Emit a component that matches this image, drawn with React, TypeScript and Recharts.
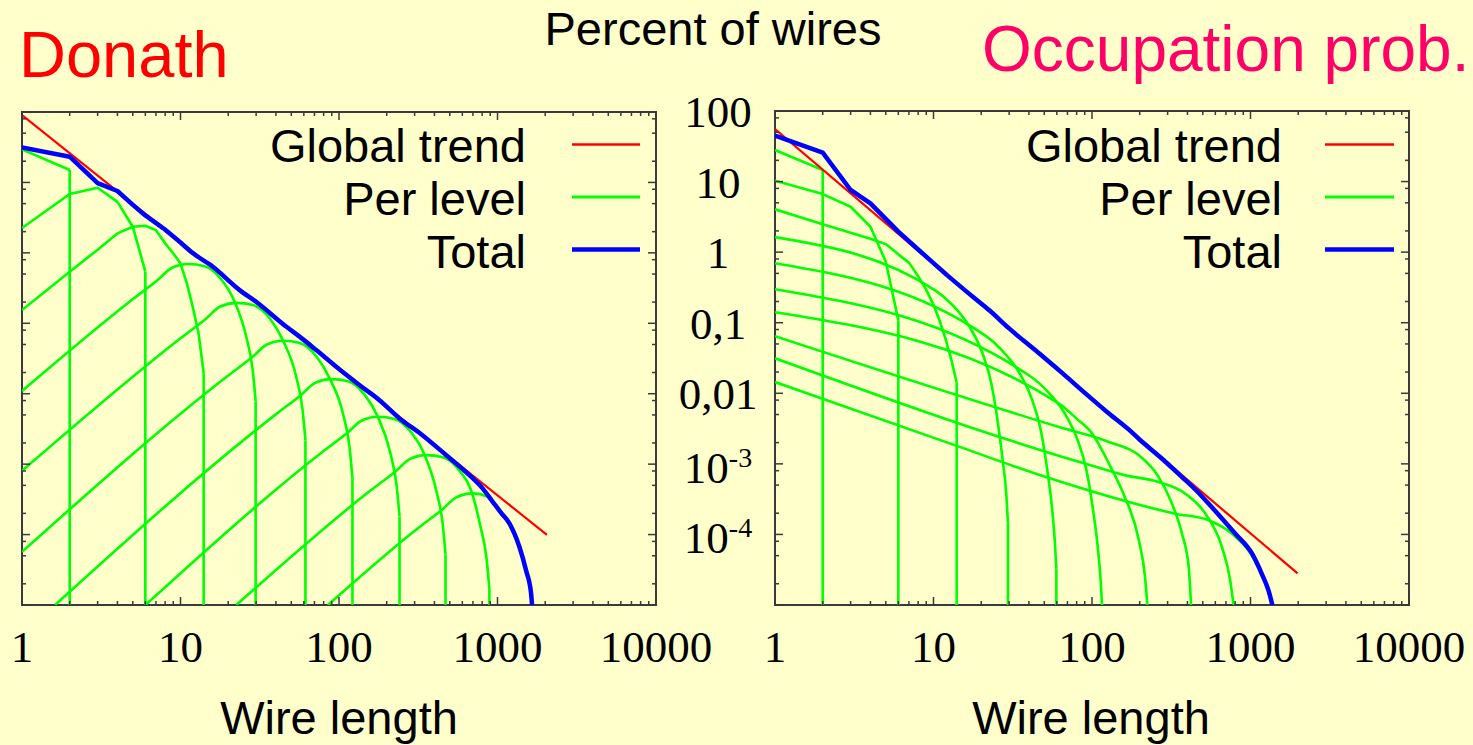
import React from 'react';
import { LineChart, Line, XAxis, YAxis, ReferenceArea } from 'recharts';

type Pt = [number, number];

// ---------- axis ticks ----------
const xTickValues = [1, 2, 3, 4, 5, 6, 7, 8, 9, 10, 20, 30, 40, 50, 60, 70, 80, 90, 100, 200, 300, 400, 500, 600, 700, 800, 900, 1000, 2000, 3000, 4000, 5000, 6000, 7000, 8000, 9000, 10000];
const xLabelValues = [1, 10, 100, 1000, 10000];
const xLabelText = ['1', '10', '100', '1000', '10000'];
const yTickValues = [0.00001, 0.00002, 0.00005, 0.00008, 0.0001, 0.0002, 0.0005, 0.0008, 0.001, 0.002, 0.005, 0.008, 0.01, 0.02, 0.05, 0.08, 0.1, 0.2, 0.5, 0.8, 1, 2, 5, 8, 10, 20, 50, 80, 100];
const yLabelValues = [100, 10, 1, 0.1, 0.01, 0.001, 0.0001];
const yLabelMain = ['100', '10', '1', '0,1', '0,01', '10', '10'];
const yLabelSup = ['', '', '', '', '', '-3', '-4'];

const legendLabels = ['Global trend', 'Per level', 'Total'];

// ---------- Donath (left) ----------
const donathTrend: Pt[] = [[1, 90.6], [2050, 9.9e-5]];
const donathTotal: Pt[] = [[1, 31.5], [2, 23.2], [3, 9.8], [4, 7.55], [5, 4.8], [6, 3.4], [7.8, 2.23], [10, 1.4], [12, 0.984], [16, 0.635], [23.6, 0.296], [30, 0.202], [46.6, 0.0891], [56.4, 0.0646], [71.8, 0.0417], [100, 0.0224], [135, 0.0132], [180, 0.0081], [241, 0.00446], [330, 0.00266], [475, 0.00134], [665, 6.98e-4], [800, 4.6e-4], [933, 2.92e-4], [1060, 2.0e-4], [1189, 1.44e-4], [1374, 6.7e-5], [1514, 3.1e-5], [1629, 1.46e-5], [1652, 1e-5], [1652, 1e-9]];
const donathL1: Pt[] = [[1, 29.5], [2, 15], [2, 1e-9]];
const donathL2: Pt[] = [[1, 2.25], [2, 6.84], [3, 8.4], [4, 5.3], [5, 2.35], [6, 0.54], [6, 1e-9]];
const donathL3: Pt[] = [[1, 0.154], [2, 0.54], [3, 1.11], [4, 1.89], [5, 2.35], [6, 2.43], [7, 2.1], [8, 1.37], [9, 0.98], [10, 0.71], [11, 0.36], [12, 0.164], [13, 0.072], [14, 0.0195], [14, 1e-9]];
const donathL4: Pt[] = [[1, 0.0109], [4.99, 0.219], [7.24, 0.418], [8.79, 0.61], [11.2, 0.693], [14.2, 0.647], [18.1, 0.418], [21.9, 0.205], [26.1, 0.0618], [28.6, 0.0209], [29.8, 0.00778], [29.8, 1e-9]];
const donathL5: Pt[] = [[1, 8.04e-4], [10.05, 0.0618], [14.6, 0.118], [17.7, 0.172], [22.5, 0.195], [28.6, 0.182], [36.5, 0.118], [44.2, 0.0577], [53.7, 0.0174], [58.9, 0.0059], [61.4, 0.00219], [61.4, 1e-9]];
const donathL6: Pt[] = [[1, 5.68e-5], [19.8, 0.0178], [28.8, 0.034], [34.9, 0.0495], [44.4, 0.0564], [56.5, 0.0526], [71.9, 0.034], [87.1, 0.01663], [106.4, 0.00502], [116.7, 0.0017], [121.6, 6.3e-4], [121.6, 1e-9]];
const donathL7: Pt[] = [[1.615, 1e-5], [39.9, 0.00509], [57.9, 0.0097], [70.3, 0.01416], [89.3, 0.0161], [113.8, 0.01503], [144.9, 0.0097], [175.4, 0.00475], [210.9, 0.001436], [231.2, 4.86e-4], [241, 1.81e-4], [241, 1e-9]];
const donathL8: Pt[] = [[6.01, 1e-5], [78.5, 0.001486], [114, 0.00283], [138.4, 0.00413], [175.8, 0.0047], [223.9, 0.00439], [285.1, 0.00283], [345.1, 0.001387], [411.1, 4.19e-4], [450.8, 1.42e-4], [469.9, 5.27e-5], [469.9, 1e-9]];
const donathL9: Pt[] = [[22.5, 1e-5], [158.5, 4.25e-4], [230.1, 8.09e-4], [279.3, 0.00118], [354.8, 0.001343], [451.9, 0.001253], [575.4, 8.09e-4], [676, 4.47e-4], [778, 1.343e-4], [853, 4.55e-5], [889, 1.69e-5], [889, 1e-9]];
const donathL10: Pt[] = [[85.1, 1e-5], [311.9, 1.213e-4], [452.9, 2.31e-4], [549.5, 3.37e-4], [698.2, 3.84e-4], [869, 3.44e-4], [1000, 2.4e-4], [1189, 1.38e-4], [1374, 6.46e-5], [1514, 3.02e-5], [1629, 1.41e-5], [1652, 1e-5], [1652, 1e-9]];
const donathLevels = [donathL1, donathL2, donathL3, donathL4, donathL5, donathL6, donathL7, donathL8, donathL9, donathL10];

// ---------- Occupation probability (right) ----------
const occTrend: Pt[] = [[1, 55.6], [1982, 2.8e-5]];
const occTotal: Pt[] = [[1, 44.7], [2, 25.7], [3, 7.6], [4, 4.9], [6, 1.95], [8, 1.09], [10, 0.7], [12.2, 0.47], [17.7, 0.233], [22.5, 0.15], [30, 0.083], [46.5, 0.0366], [65, 0.0193], [91.2, 0.00989], [125, 0.0054], [171, 0.00305], [198, 0.00225], [270, 0.00124], [370, 6.5e-4], [450, 4.3e-4], [545, 2.72e-4], [650, 1.75e-4], [802, 1.02e-4], [1021, 5.37e-5], [1178, 2.77e-5], [1297, 1.62e-5], [1374, 1e-5], [1374, 1e-9]];
const occL1: Pt[] = [[1, 28], [2, 14.6], [2, 1e-9]];
const occL2: Pt[] = [[1, 10.3], [2, 6.65], [3, 4.4], [4, 2.29], [5, 0.73], [6, 0.108], [6, 1e-9]];
const occL3: Pt[] = [[1, 4.04], [2, 2.49], [3, 1.88], [4, 1.55], [5, 1.3], [6, 0.93], [7, 0.71], [8, 0.457], [9, 0.292], [10, 0.18], [11, 0.103], [12, 0.056], [13, 0.0291], [14, 0.0141], [14, 1e-9]];
const occL4: Pt[] = [[1, 1.633], [10.35, 0.283], [13.03, 0.182], [16.79, 0.0893], [20.42, 0.0363], [23.17, 0.0138], [25.41, 0.00399], [27.23, 0.0012], [28.8, 3.67e-4], [29.5, 1.44e-4], [29.5, 1e-9]];
const occL5: Pt[] = [[1, 0.698], [21.13, 0.0661], [26.6, 0.0422], [34.28, 0.0206], [41.69, 0.0083], [47.32, 0.00315], [51.88, 9.08e-4], [55.59, 2.72e-4], [58.21, 8.3e-5], [59.57, 3.26e-5], [59.57, 1e-9]];
const occL6: Pt[] = [[1, 0.2985], [41.21, 0.01714], [51.88, 0.01094], [66.83, 0.00532], [81.28, 0.002148], [92.26, 8.15e-4], [101.2, 2.35e-4], [108.4, 7.06e-5], [113.5, 2.16e-5], [116.1, 8.5e-6], [116.1, 1e-9]];
const occL7: Pt[] = [[1, 0.141], [61.9, 7.14e-3], [80, 4.37e-3], [100.5, 2.68e-3], [127.9, 1.007e-3], [160, 3.5e-4], [197.7, 8.2e-5], [216, 2.5e-5], [225, 8e-6], [225, 1e-9]];
const occL8: Pt[] = [[1, 0.0644], [61.9, 3.33e-3], [127.9, 2.04e-3], [197.7, 1.32e-3], [263.6, 6.5e-4], [319.9, 2.72e-4], [369.8, 1.02e-4], [407.4, 3.47e-5], [421.7, 1e-5], [421.7, 1e-9]];
const occL9: Pt[] = [[1, 0.0313], [91.4, 1e-3], [163, 6.87e-4], [263.6, 5.52e-4], [388.2, 3.78e-4], [518.8, 1.97e-4], [660.7, 6.6e-5], [744.7, 2.23e-5], [781.6, 1e-5], [781.6, 1e-9]];
const occL10: Pt[] = [[1, 0.01445], [14.6, 1.74e-3], [51.2, 6.5e-4], [335.7, 1.97e-4], [544.5, 1.585e-4], [765.6, 1.02e-4], [1021, 5.0e-5], [1178, 2.63e-5], [1297, 1.55e-5], [1374, 9.3e-6], [1374, 1e-9]];
const occLevels = [occL1, occL2, occL3, occL4, occL5, occL6, occL7, occL8, occL9, occL10];

// ---------- styling ----------
const BG = '#ffffcc';
const FRAME = '#3a3a3a';
const RED = '#ff0000';
const GREEN = '#00ff00';
const BLUE = '#0000ff';
const SANS = '"Liberation Sans", Arial, Helvetica, sans-serif';
const SERIF = '"Liberation Serif", "Times New Roman", serif';
const PAGE_H = 745;

const toPts = (a: Pt[]) => a.map(([x, y]) => ({ x, y }));
const isMajor = (v: number) => Math.abs(Math.log10(v) - Math.round(Math.log10(v))) < 1e-6;
const sameVal = (a: number, b: number) => Math.abs(Math.log10(a) - Math.log10(b)) < 1e-6;

// split a series into its curved body and its final vertical drop (if any)
function splitDrop(a: Pt[]): { body: Pt[]; drop: Pt[] | null } {
  const n = a.length;
  if (n >= 3 && a[n - 1][0] === a[n - 2][0]) {
    return { body: a.slice(0, n - 1), drop: a.slice(n - 2) };
  }
  return { body: a, drop: null };
}

function mkLine(key: string, pts: Pt[], stroke: string, width: number, curve: 'linear' | 'monotone') {
  return (
    <Line
      key={key}
      data={toPts(pts)}
      dataKey="y"
      type={curve}
      dot={false}
      activeDot={false}
      stroke={stroke}
      strokeWidth={width}
      strokeLinejoin="round"
      strokeLinecap="butt"
      isAnimationActive={false}
    />
  );
}

// linearUntil: points with x <= linearUntil are joined by straight segments (coarse sampling),
// the rest by a smooth monotone curve
function seriesLines(key: string, a: Pt[], stroke: string, width: number, curve: 'linear' | 'monotone', linearUntil = 0) {
  const { body, drop } = splitDrop(a);
  const out: React.ReactElement[] = [];
  if (curve === 'monotone' && linearUntil > 0) {
    const k = body.findIndex(([x]) => x > linearUntil);
    const head = body.slice(0, k);
    const tail = body.slice(Math.max(0, k - 1));
    if (head.length >= 2) out.push(mkLine(key + 'h', head, stroke, width, 'linear'));
    out.push(mkLine(key + 'b', tail, stroke, width, 'monotone'));
  } else {
    out.push(mkLine(key + 'b', body, stroke, width, curve));
  }
  if (drop) out.push(mkLine(key + 'd', drop, stroke, width, 'linear'));
  return out;
}

interface PanelProps {
  left: number;
  width: number;
  plotLeft: number;
  plotRight: number;
  plotTop: number;
  plotBottom: number;
  showYLabels: boolean;
  trend: Pt[];
  total: Pt[];
  totalLinearUntil: number;
  levels: Pt[][];
}

function Panel(p: PanelProps) {
  const xl = p.plotLeft - p.left;
  const xr = p.plotRight - p.left;

  const XTick = (props: any) => {
    const { x, payload } = props;
    const v = payload.value;
    const major = isMajor(v);
    const len = major ? 8 : 4;
    const idx = xLabelValues.findIndex((lv) => sameVal(lv, v));
    return (
      <g>
        <line x1={x} x2={x} y1={p.plotBottom} y2={p.plotBottom - len} stroke={FRAME} strokeWidth={1.5} />
        <line x1={x} x2={x} y1={p.plotTop} y2={p.plotTop + len} stroke={FRAME} strokeWidth={1.5} />
        {idx >= 0 && (
          <text x={x} y={p.plotBottom + 57} textAnchor="middle" fontFamily={SERIF} fontSize={45} fill="#000">
            {xLabelText[idx]}
          </text>
        )}
      </g>
    );
  };

  const YTick = (props: any) => {
    const { y, payload } = props;
    const v = payload.value;
    const major = isMajor(v);
    const len = major ? 8 : 4;
    const idx = yLabelValues.findIndex((lv) => sameVal(lv, v));
    const sup = idx >= 0 ? yLabelSup[idx] : '';
    return (
      <g>
        <line x1={xl} x2={xl + len} y1={y} y2={y} stroke={FRAME} strokeWidth={1.5} />
        <line x1={xr - len} x2={xr} y1={y} y2={y} stroke={FRAME} strokeWidth={1.5} />
        {p.showYLabels && idx >= 0 && (
          <text x={xl - 57} y={y + (sup ? 19 : 16)} textAnchor="middle" fontFamily={SERIF} fontSize={45} fill="#000">
            {yLabelMain[idx]}
            {sup ? (
              <tspan dy={-16} fontSize={28}>
                {sup}
              </tspan>
            ) : null}
          </text>
        )}
      </g>
    );
  };

  return (
    <div style={{ position: 'absolute', left: p.left, top: 0 }}>
      <LineChart
        width={p.width}
        height={PAGE_H}
        margin={{ top: p.plotTop, right: p.width - xr, bottom: 0, left: 0 }}
      >
        <XAxis
          dataKey="x"
          type="number"
          scale="log"
          domain={[1, 10000]}
          allowDataOverflow
          ticks={xTickValues}
          interval={0}
          height={PAGE_H - p.plotBottom}
          axisLine={false}
          tickLine={false}
          tickSize={0}
          tickMargin={0}
          tick={XTick}
        />
        <YAxis
          dataKey="y"
          type="number"
          scale="log"
          domain={[0.00001, 100]}
          allowDataOverflow
          ticks={yTickValues}
          interval={0}
          width={xl}
          axisLine={false}
          tickLine={false}
          tickSize={0}
          tickMargin={0}
          tick={YTick}
        />
        {p.levels.flatMap((lv, i) => seriesLines('lv' + i, lv, GREEN, 2.6, i >= 3 ? 'monotone' : 'linear'))}
        {seriesLines('trend', p.trend, RED, 2.2, 'linear')}
        {seriesLines('total', p.total, BLUE, 4.5, 'monotone', p.totalLinearUntil)}
        <ReferenceArea
          x1={1}
          x2={10000}
          y1={0.00001}
          y2={100}
          fill="none"
          fillOpacity={0}
          stroke={FRAME}
          strokeWidth={2}
          ifOverflow="visible"
        />
      </LineChart>
    </div>
  );
}

function Legend({ textRight, lineX1, lineX2 }: { textRight: number; lineX1: number; lineX2: number }) {
  const colors = [RED, GREEN, BLUE];
  const widths = [2.5, 3, 4.5];
  const baselines = [162, 215, 268];
  const lineYs = [144.5, 197, 249.5];
  return (
    <g>
      {legendLabels.map((t, i) => (
        <g key={t}>
          <text x={textRight} y={baselines[i]} textAnchor="end" fontFamily={SANS} fontSize={47} fill="#000">
            {t}
          </text>
          <line x1={lineX1} x2={lineX2} y1={lineYs[i]} y2={lineYs[i]} stroke={colors[i]} strokeWidth={widths[i]} />
        </g>
      ))}
    </g>
  );
}

export default function App() {
  return (
    <div
      style={{
        position: 'absolute',
        left: 0,
        top: 0,
        width: 1473,
        height: PAGE_H,
        background: BG,
        overflow: 'hidden',
      }}
    >
      <Panel
        left={0}
        width={720}
        plotLeft={22}
        plotRight={656}
        plotTop={112}
        plotBottom={605}
        showYLabels={false}
        trend={donathTrend}
        total={donathTotal}
        totalLinearUntil={7.8}
        levels={donathLevels}
      />
      <Panel
        left={660}
        width={813}
        plotLeft={775}
        plotRight={1409}
        plotTop={111}
        plotBottom={605}
        showYLabels={true}
        trend={occTrend}
        total={occTotal}
        totalLinearUntil={12.2}
        levels={occLevels}
      />
      <svg
        width={1473}
        height={PAGE_H}
        style={{ position: 'absolute', left: 0, top: 0, pointerEvents: 'none' }}
      >
        <text x={19} y={77} fontFamily={SANS} fontSize={65} fill="#ff0000">
          Donath
        </text>
        <text x={982} y={71} fontFamily={SANS} fontSize={64} fill="#ff0066">
          Occupation prob.
        </text>
        <text x={713} y={45} textAnchor="middle" fontFamily={SANS} fontSize={47} fill="#000">
          Percent of wires
        </text>
        <text x={339} y={734} textAnchor="middle" fontFamily={SANS} fontSize={47} fill="#000">
          Wire length
        </text>
        <text x={1091} y={734} textAnchor="middle" fontFamily={SANS} fontSize={47} fill="#000">
          Wire length
        </text>
        <Legend textRight={526} lineX1={572} lineX2={640} />
        <Legend textRight={1282} lineX1={1325} lineX2={1394} />
      </svg>
    </div>
  );
}
